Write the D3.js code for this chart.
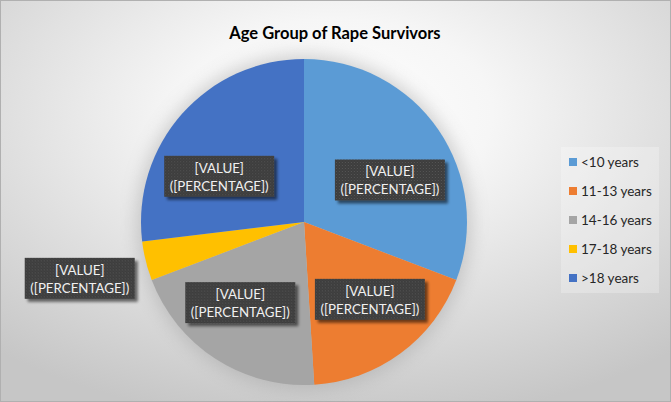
<!DOCTYPE html>
<html>
<head>
<meta charset="utf-8">
<script src="https://cdn.jsdelivr.net/npm/d3@7"></script>
<style>
  body { margin: 0; background: #fff; }
  svg { display: block; }
</style>
</head>
<body>
<svg id="chart" width="671" height="402"></svg>
<script>
// chart data
var categories = ["<10 years", "11-13 years", "14-16 years", "17-18 years", ">18 years"];
var shares = [30.8, 18.2, 20.2, 3.9, 26.9];
var colors = ["#5B9BD5", "#ED7D31", "#A5A5A5", "#FFC000", "#4472C4"];
var labelLines = ["[VALUE]", "([PERCENTAGE])"];
// label box nudges from the slice centroid (Excel best-fit placement)
var labelNudge = [[6, 13], [6, -4], [-8, -6], [0, 1], [-13, 18]];
var labelRadius = [97, 101, 103, 231, 96];

var width = 671, height = 402;
var cx = 304, cy = 222, radius = 163;

var svg = d3.select("#chart");
var defs = svg.append("defs");

// background gradient
var bg = defs.append("radialGradient")
    .attr("id", "bgGrad")
    .attr("cx", "50%").attr("cy", "28%").attr("r", "78%")
    .attr("fx", "50%").attr("fy", "28%");
bg.append("stop").attr("offset", "0%").attr("stop-color", "#ffffff");
bg.append("stop").attr("offset", "30%").attr("stop-color", "#f6f6f6");
bg.append("stop").attr("offset", "100%").attr("stop-color", "#c6c6c6");

// dotted texture for label boxes
var pat = defs.append("pattern")
    .attr("id", "dots")
    .attr("width", 3).attr("height", 3)
    .attr("patternUnits", "userSpaceOnUse");
pat.append("rect").attr("width", 3).attr("height", 3).attr("fill", "#3d3d3d");
pat.append("rect").attr("x", 0).attr("y", 0).attr("width", 1).attr("height", 1).attr("fill", "#555555");
pat.append("rect").attr("x", 1.5).attr("y", 1.5).attr("width", 1).attr("height", 1).attr("fill", "#4a4a4a");

var blur = defs.append("filter").attr("id", "glow")
    .attr("x", "-30%").attr("y", "-30%").attr("width", "160%").attr("height", "160%");
blur.append("feGaussianBlur").attr("stdDeviation", 9);

var shadow = defs.append("filter").attr("id", "boxShadow")
    .attr("x", "-20%").attr("y", "-30%").attr("width", "150%").attr("height", "170%");
shadow.append("feGaussianBlur").attr("in", "SourceAlpha").attr("stdDeviation", 1.6);
shadow.append("feOffset").attr("dx", 3).attr("dy", 3).attr("result", "off");
shadow.append("feComponentTransfer").append("feFuncA").attr("type", "linear").attr("slope", 0.55);
var merge = shadow.append("feMerge");
merge.append("feMergeNode");
merge.append("feMergeNode").attr("in", "SourceGraphic");

svg.append("rect")
    .attr("x", 0.5).attr("y", 0.5)
    .attr("width", width - 1).attr("height", height - 1)
    .attr("fill", "url(#bgGrad)")
    .attr("stroke", "#b0b0b0");

svg.append("text")
    .attr("x", 335).attr("y", 38.5)
    .attr("text-anchor", "middle")
    .style("font-family", "Lato, 'Open Sans', sans-serif")
    .style("font-weight", "bold")
    .style("font-size", "16.5px")
    .attr("fill", "#000")
    .text("Age Group of Rape Survivors");

var pie = d3.pie().sort(null).value(function(d) { return d; });
var arcs = pie(shares);
var arc = d3.arc().innerRadius(0).outerRadius(radius);

var g = svg.append("g").attr("transform", "translate(" + cx + "," + cy + ")");

// soft halo behind the pie
g.append("circle")
    .attr("r", radius + 4)
    .attr("fill", "#9a9a9a")
    .attr("opacity", 0.45)
    .attr("filter", "url(#glow)");

g.selectAll("path.slice")
    .data(arcs)
    .enter().append("path")
    .attr("class", "slice")
    .attr("d", arc)
    .attr("fill", function(d, i) { return colors[i]; });

// data labels
var boxW = 110, boxH = 41;
var labels = g.selectAll("g.label")
    .data(arcs)
    .enter().append("g")
    .attr("class", "label")
    .attr("transform", function(d, i) {
        var c = d3.arc().innerRadius(labelRadius[i]).outerRadius(labelRadius[i]).centroid(d);
        return "translate(" + (c[0] + labelNudge[i][0]) + "," + (c[1] + labelNudge[i][1]) + ")";
    });

labels.append("rect")
    .attr("x", -boxW / 2).attr("y", -boxH / 2)
    .attr("width", boxW).attr("height", boxH)
    .attr("fill", "url(#dots)")
    .attr("filter", "url(#boxShadow)");

labels.each(function() {
    var sel = d3.select(this);
    labelLines.forEach(function(line, k) {
        sel.append("text")
            .attr("x", 0)
            .attr("y", -3.5 + k * 18)
            .attr("text-anchor", "middle")
            .style("font-family", "Lato, 'Open Sans', sans-serif")
            .style("font-size", "13.3px")
            .attr("fill", "#f0f0f0")
            .text(line);
    });
});

// legend
var legend = svg.append("g").attr("transform", "translate(561,147)");
legend.append("rect")
    .attr("width", 98).attr("height", 146)
    .attr("fill", "#ffffff").attr("opacity", 0.25);

var items = legend.selectAll("g.item")
    .data(categories)
    .enter().append("g")
    .attr("class", "item")
    .attr("transform", function(d, i) { return "translate(8," + (15 + i * 29) + ")"; });

items.append("rect")
    .attr("x", 0).attr("y", -4)
    .attr("width", 8).attr("height", 8)
    .attr("fill", function(d, i) { return colors[i]; });

items.append("text")
    .attr("x", 12).attr("y", 4.5)
    .style("font-family", "Lato, 'Open Sans', sans-serif")
    .style("font-size", "13.5px")
    .attr("fill", "#262626")
    .text(function(d) { return d; });
</script>
</body>
</html>
